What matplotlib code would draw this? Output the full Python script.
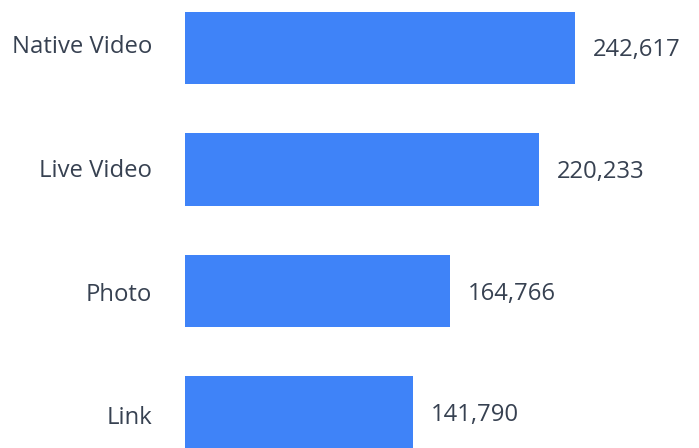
import matplotlib.pyplot as plt

# reach per post type
post_types = ['Native Video', 'Live Video', 'Photo', 'Link']
reach = [242617, 220233, 164766, 141790]

bar_color = '#3F83F8'
text_color = '#374151'

plt.rcParams['font.family'] = ['Open Sans', 'DejaVu Sans']

fig = plt.figure(figsize=(6.99, 4.48), dpi=100)
ax = fig.add_axes([185 / 699, 0, 514 / 699, 1])

pos = list(range(len(post_types)))
ax.barh(pos, reach, height=0.593, color=bar_color)

ax.set_xlim(0, 319750)
ax.set_ylim(3.292, -0.395)
ax.axis('off')

px = 72 / 100  # pixels -> points
for i, (name, val) in enumerate(zip(post_types, reach)):
    # category labels sit a little lower on each row
    dy = 1 - 2.3 * i
    ax.annotate(name, xy=(0, i), xytext=(-33 * px, dy * px), textcoords='offset points',
                ha='right', va='center', fontsize=17.2, color=text_color)
    ax.annotate(f'{val:,}', xy=(val, i), xytext=(18 * px, -2.5 * px), textcoords='offset points',
                ha='left', va='center', fontsize=17.2, color=text_color)

fig.savefig('out.png', dpi=100)
